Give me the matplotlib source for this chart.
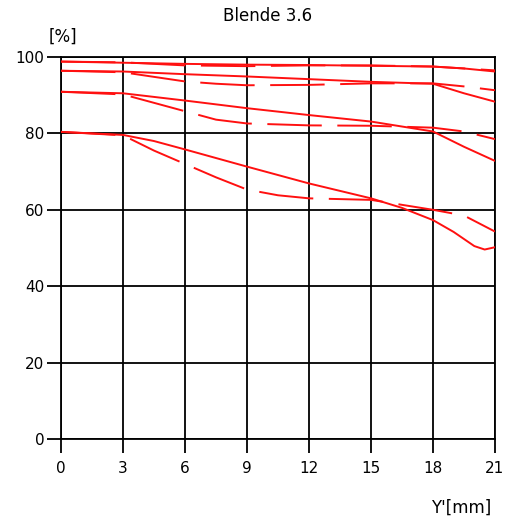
import matplotlib
matplotlib.use("Agg")
import matplotlib.pyplot as plt

# MTF curves, Blende 3.6 (solid / dashed pairs)
s1_x = [0, 3, 6, 9, 12, 15, 18, 19.5, 21]
s1_y = [98.8, 98.5, 98.2, 98.0, 97.9, 97.7, 97.5, 97.0, 96.2]
d1_x = [0, 3, 6, 9, 12, 15, 18, 19.5, 21]
d1_y = [98.8, 98.6, 97.8, 97.6, 97.8, 97.8, 97.5, 97.0, 96.5]

s2_x = [0, 3, 6, 9, 12, 15, 18, 19.5, 21]
s2_y = [96.4, 96.2, 95.5, 94.9, 94.2, 93.5, 93.0, 90.5, 88.3]
d2_x = [0, 3, 4.5, 6, 7.5, 9, 12, 15, 18, 19.5, 21]
d2_y = [96.4, 96.0, 94.8, 93.6, 93.0, 92.6, 92.7, 93.1, 93.1, 92.3, 91.3]

s3_x = [0, 3, 6, 9, 12, 15, 18, 19.5, 21]
s3_y = [90.9, 90.5, 88.6, 86.6, 84.8, 83.1, 80.5, 76.5, 72.8]
d3_x = [0, 3, 4.5, 6, 7.5, 9, 12, 15, 18, 19.5, 21]
d3_y = [90.9, 90.2, 88.0, 85.8, 83.6, 82.6, 82.1, 82.0, 81.5, 80.5, 78.5]

s4_x = [0, 3, 4.5, 6, 9, 12, 15, 16.5, 18, 19, 20, 20.5, 21]
s4_y = [80.4, 79.6, 78.0, 75.8, 71.3, 66.9, 63.0, 60.5, 57.3, 54.2, 50.5, 49.6, 50.2]
d4_x = [0, 3, 4.5, 6, 7.5, 9, 10.5, 12, 15, 16.5, 18, 19.5, 21]
d4_y = [80.4, 79.5, 75.5, 72.0, 68.5, 65.3, 63.8, 63.0, 62.6, 61.3, 60.0, 58.5, 54.3]

solid = [(s1_x, s1_y), (s2_x, s2_y), (s3_x, s3_y), (s4_x, s4_y)]
dashed = [(d1_x, d1_y), (d2_x, d2_y), (d3_x, d3_y), (d4_x, d4_y)]

x_ticks = [0, 3, 6, 9, 12, 15, 18, 21]
y_ticks = [0, 20, 40, 60, 80, 100]

fig = plt.figure(figsize=(5.06, 5.25), dpi=100)
ax = fig.add_axes([61 / 506, 1 - 439 / 525, 434 / 506, 382 / 525])

red = "#ff1010"
for x, y in dashed:
    ax.plot(x, y, color=red, lw=1.4, linestyle=(0, (28, 8)), zorder=3)
for x, y in solid:
    ax.plot(x, y, color=red, lw=1.4, zorder=3)

ax.set_xlim(0, 21)
ax.set_ylim(0, 100)
ax.set_xticks(x_ticks)
ax.set_yticks(y_ticks)
ax.grid(True, color="black", lw=1.3)
ax.set_axisbelow(True)
for sp in ax.spines.values():
    sp.set_linewidth(1.3)
ax.tick_params(axis="x", length=10, width=1.3, pad=6, labelsize=11, colors="black")
ax.tick_params(axis="y", length=10, width=1.3, pad=2, labelsize=11, colors="black")

fig.text(268 / 506, 1 - 16 / 525, "Blende 3.6", ha="center", va="center", fontsize=12)
fig.text(63 / 506, 1 - 37 / 525, "[%]", ha="center", va="center", fontsize=12)
fig.text(461 / 506, 1 - 508 / 525, "Y'[mm]", ha="center", va="center", fontsize=12)

fig.savefig("out.png", dpi=100)
